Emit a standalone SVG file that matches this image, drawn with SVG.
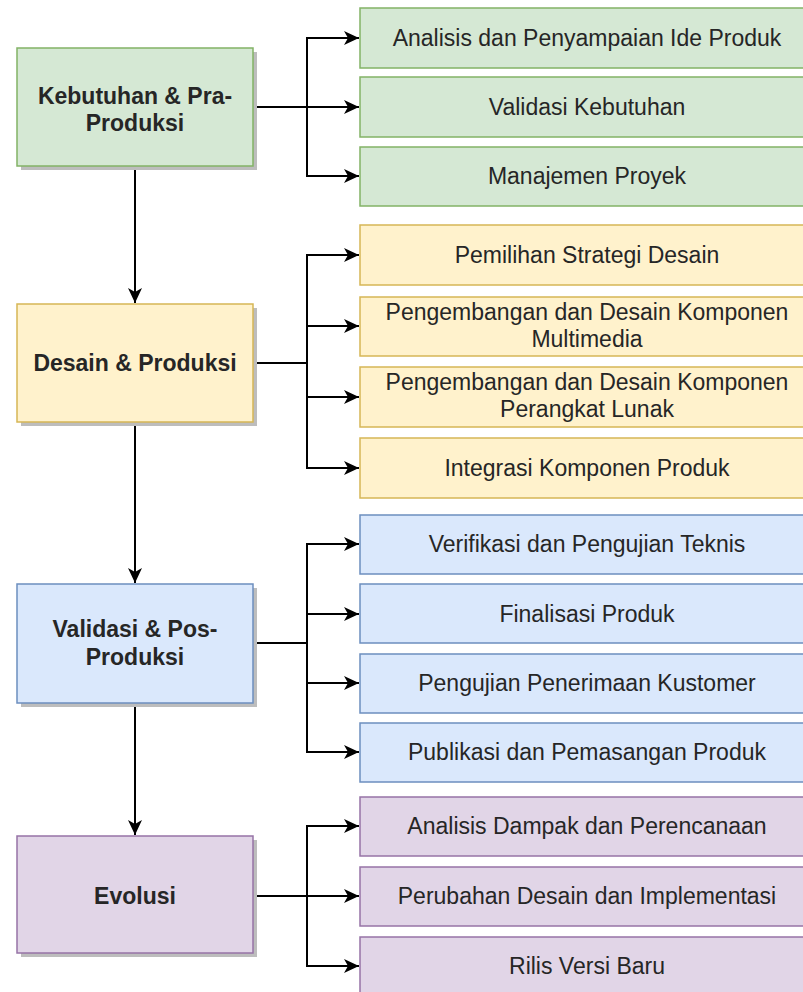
<svg xmlns="http://www.w3.org/2000/svg" width="803" height="992" viewBox="0 0 803 992">
<style>
.t{font-family:"Liberation Sans",Arial,Helvetica,sans-serif;font-size:23px;fill:#262626;text-anchor:middle}
.b{font-weight:bold}
.sh{fill:#bdbdbd}
.g{fill:#d5e8d4;stroke:#82b366;stroke-width:1.5}
.y{fill:#fff2cc;stroke:#d6b656;stroke-width:1.5}
.bl{fill:#dae8fc;stroke:#6c8ebf;stroke-width:1.5}
.p{fill:#e1d5e7;stroke:#9673a6;stroke-width:1.5}
.c{fill:none;stroke:#000;stroke-width:2}
</style>
<defs>
<marker id="ah" markerWidth="15" markerHeight="14" refX="15" refY="7" orient="auto" markerUnits="userSpaceOnUse">
<path d="M0,0 L15,7 L0,14 L4,7 Z" fill="#000"/>
</marker>
</defs>
<rect width="803" height="992" fill="#fff"/>

<g id="connectors">
<path class="c" d="M135,166 V303" marker-end="url(#ah)"/>
<path class="c" d="M135,422 V583" marker-end="url(#ah)"/>
<path class="c" d="M135,703 V835" marker-end="url(#ah)"/>
<path class="c" d="M253,107 H359" marker-end="url(#ah)"/>
<path class="c" d="M307,107 V38 H359" marker-end="url(#ah)"/>
<path class="c" d="M307,107 V176 H359" marker-end="url(#ah)"/>
<path class="c" d="M253,363 H307 V255 H359" marker-end="url(#ah)"/>
<path class="c" d="M307,363 V326 H359" marker-end="url(#ah)"/>
<path class="c" d="M307,363 V397 H359" marker-end="url(#ah)"/>
<path class="c" d="M307,363 V468 H359" marker-end="url(#ah)"/>
<path class="c" d="M253,643 H307 V544 H359" marker-end="url(#ah)"/>
<path class="c" d="M307,643 V614 H359" marker-end="url(#ah)"/>
<path class="c" d="M307,643 V683 H359" marker-end="url(#ah)"/>
<path class="c" d="M307,643 V752 H359" marker-end="url(#ah)"/>
<path class="c" d="M253,896 H359" marker-end="url(#ah)"/>
<path class="c" d="M307,896 V826 H359" marker-end="url(#ah)"/>
<path class="c" d="M307,896 V966 H359" marker-end="url(#ah)"/>
</g>

<g id="kebutuhan">
<rect class="sh" x="21" y="52" width="236" height="118"/>
<rect class="g" x="17" y="48" width="236" height="118"/>
<text class="t b" x="135" y="104">Kebutuhan &amp; Pra-</text>
<text class="t b" x="135" y="131">Produksi</text>
</g>
<g id="analisis-ide"><rect class="g" x="360" y="8" width="454" height="60"/><text class="t" x="587" y="46">Analisis dan Penyampaian Ide Produk</text></g>
<g id="validasi-kebutuhan"><rect class="g" x="360" y="77" width="454" height="60"/><text class="t" x="587" y="115">Validasi Kebutuhan</text></g>
<g id="manajemen-proyek"><rect class="g" x="360" y="147" width="454" height="59"/><text class="t" x="587" y="184">Manajemen Proyek</text></g>

<g id="desain">
<rect class="sh" x="21" y="308" width="236" height="118"/>
<rect class="y" x="17" y="304" width="236" height="118"/>
<text class="t b" x="135" y="371">Desain &amp; Produksi</text>
</g>
<g id="pemilihan"><rect class="y" x="360" y="225" width="454" height="60"/><text class="t" x="587" y="263">Pemilihan Strategi Desain</text></g>
<g id="multimedia"><rect class="y" x="360" y="297" width="454" height="59"/><text class="t" x="587" y="320">Pengembangan dan Desain Komponen</text><text class="t" x="587" y="347">Multimedia</text></g>
<g id="perangkat-lunak"><rect class="y" x="360" y="367" width="454" height="60"/><text class="t" x="587" y="390">Pengembangan dan Desain Komponen</text><text class="t" x="587" y="417">Perangkat Lunak</text></g>
<g id="integrasi"><rect class="y" x="360" y="438" width="454" height="60"/><text class="t" x="587" y="476">Integrasi Komponen Produk</text></g>

<g id="validasi">
<rect class="sh" x="21" y="588" width="236" height="119"/>
<rect class="bl" x="17" y="584" width="236" height="119"/>
<text class="t b" x="135" y="637">Validasi &amp; Pos-</text>
<text class="t b" x="135" y="665">Produksi</text>
</g>
<g id="verifikasi"><rect class="bl" x="360" y="515" width="454" height="59"/><text class="t" x="587" y="552">Verifikasi dan Pengujian Teknis</text></g>
<g id="finalisasi"><rect class="bl" x="360" y="584" width="454" height="59"/><text class="t" x="587" y="622">Finalisasi Produk</text></g>
<g id="pengujian"><rect class="bl" x="360" y="654" width="454" height="59"/><text class="t" x="587" y="691">Pengujian Penerimaan Kustomer</text></g>
<g id="publikasi"><rect class="bl" x="360" y="723" width="454" height="59"/><text class="t" x="587" y="760">Publikasi dan Pemasangan Produk</text></g>

<g id="evolusi">
<rect class="sh" x="21" y="840" width="236" height="117"/>
<rect class="p" x="17" y="836" width="236" height="117"/>
<text class="t b" x="135" y="904">Evolusi</text>
</g>
<g id="analisis-dampak"><rect class="p" x="360" y="797" width="454" height="59"/><text class="t" x="587" y="834">Analisis Dampak dan Perencanaan</text></g>
<g id="perubahan"><rect class="p" x="360" y="867" width="454" height="59"/><text class="t" x="587" y="904">Perubahan Desain dan Implementasi</text></g>
<g id="rilis"><rect class="p" x="360" y="937" width="454" height="60"/><text class="t" x="587" y="974">Rilis Versi Baru</text></g>
</svg>
